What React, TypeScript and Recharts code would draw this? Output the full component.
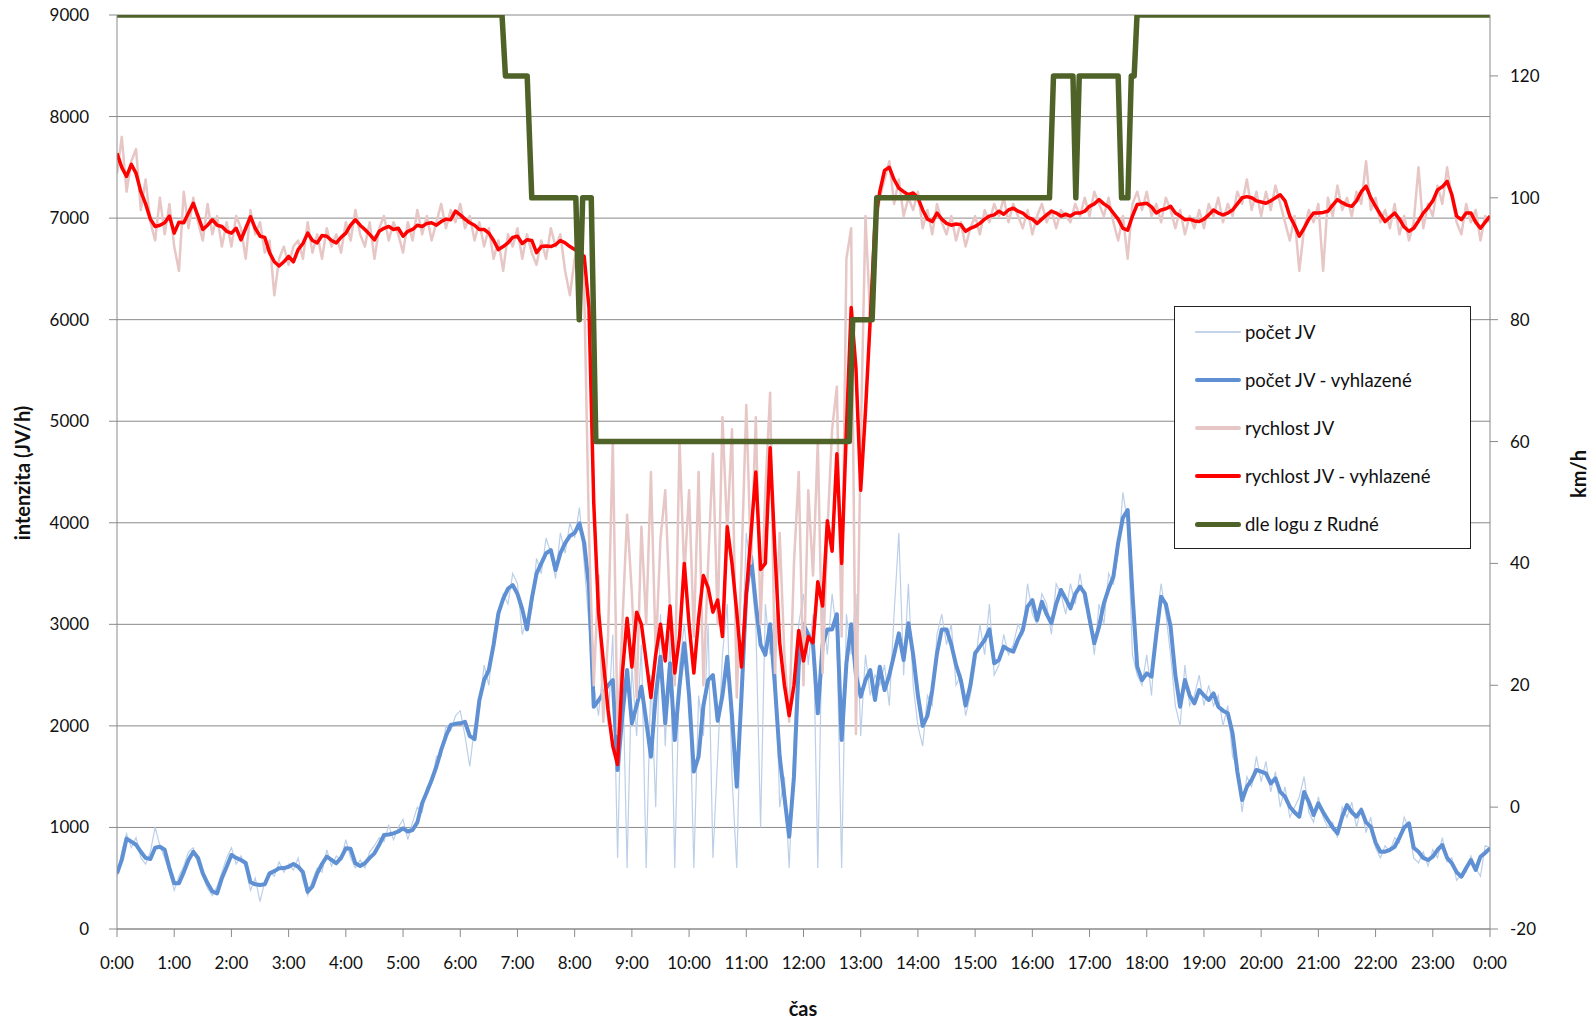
import React from "react";
import { LineChart, Line, XAxis, YAxis, CartesianGrid } from "recharts";

// 5-minute samples, 00:00 .. 24:00 (289 values per series)
const STEP_MIN = 5;

// počet JV (JV/h) - raw
const countRaw = [
  520, 760, 940, 800, 900, 700, 640, 760, 1000, 820, 700, 560,
  380, 520, 620, 760, 800, 640, 520, 400, 330, 420, 560, 700,
  800, 640, 720, 600, 380, 500, 270, 470, 560, 520, 660, 560,
  640, 580, 700, 480, 330, 480, 600, 560, 780, 620, 720, 680,
  880, 700, 600, 680, 600, 760, 820, 900, 860, 1020, 880, 1000,
  1080, 880, 1050, 1200, 1150, 1400, 1430, 1700, 1700, 2000, 1950, 2100,
  2150, 1900, 1600, 2000, 2150, 2600, 2400, 2900, 3050, 3300, 3200, 3500,
  3400, 2900, 3050, 3150, 3650, 3500, 3850, 3700, 3450, 3900, 3700, 4000,
  3850, 4150, 3600, 3000, 2400, 2100, 2600, 2000, 2900, 700, 2700, 600,
  2600, 1900, 2800, 600, 2500, 1200, 3100, 1800, 2900, 600, 2600, 3000,
  2500, 600, 2300, 1900, 3000, 700, 1700, 2700, 3200, 1500, 600, 2500,
  3900, 3500, 3000, 1000, 3200, 2700, 2900, 1200, 1500, 600, 1800, 3000,
  3300, 2600, 3100, 600, 3200, 2700, 3300, 2900, 600, 3100, 2700, 3300,
  1900, 2700, 2300, 2500, 2400, 2600, 2200, 3100, 3900, 2500, 3400, 2400,
  2000, 1800, 2300, 2200, 2900, 3100, 2800, 3000, 2400, 2500, 2100, 2300,
  2600, 3000, 2700, 3200, 2500, 2600, 2900, 2700, 2800, 3000, 2900, 3400,
  3100, 3000, 3300, 3200, 2900, 3400, 3300, 3100, 3400, 3200, 3500, 3200,
  3100, 2700, 3200, 3000, 3500, 3400, 3700, 4300, 4000, 2700, 2500, 2400,
  2700, 2300, 3000, 3400, 3100, 2700, 2200, 2000, 2600, 2200, 2300, 2500,
  2200, 2400, 2200, 2300, 2000, 2200, 1700, 1600, 1150, 1500, 1400, 1700,
  1450, 1650, 1350, 1550, 1200, 1400, 1100, 1200, 1300, 1500, 1150, 1050,
  1300, 1100, 1000, 1050, 900, 1200, 1100, 1250, 1000, 1200, 950, 1100,
  800, 700, 820, 760, 900, 850, 1100, 980, 700, 650, 760, 620,
  780, 700, 900, 660, 700, 480, 540, 560, 720, 600, 520, 820,
  800,
];

// počet JV - vyhlazené (JV/h)
const countSmooth = [
  548, 680, 890, 860, 830, 760, 700, 690, 800, 810, 780, 600,
  450, 450, 560, 680, 760, 700, 548, 450, 370, 351, 500, 613,
  729, 700, 679, 650, 460, 440, 433, 440, 548, 570, 598, 600,
  613, 640, 613, 560, 367, 420, 548, 640, 712, 680, 647, 700,
  795, 790, 647, 620, 647, 700, 745, 830, 925, 930, 942, 960,
  991, 960, 975, 1050, 1238, 1350, 1467, 1600, 1763, 1900, 2009, 2020,
  2025, 2040, 1900, 1870, 2250, 2450, 2550, 2800, 3108, 3250, 3350, 3387,
  3300, 3150, 2950, 3250, 3500, 3600, 3700, 3730, 3535, 3700, 3800, 3870,
  3900, 3995, 3800, 3371, 2189, 2250, 2321, 2400, 2451, 1566, 2100, 2550,
  2025, 2200, 2386, 2050, 1697, 2300, 2681, 2025, 2616, 1861, 2400, 2813,
  2300, 1550, 1700, 2200, 2450, 2500, 2050, 2300, 2681, 2100, 1401, 2300,
  3300, 3666, 3200, 2800, 2700, 3000, 2400, 1700, 1300, 909, 1500, 2600,
  3000, 2900, 2800, 2124, 2800, 2950, 2950, 3100, 1861, 2616, 3000, 2500,
  2288, 2450, 2550, 2255, 2583, 2353, 2500, 2700, 2911, 2649, 3010, 2700,
  2300, 2000, 2100, 2350, 2715, 2950, 2950, 2800, 2600, 2452, 2200, 2400,
  2715, 2780, 2846, 2950, 2616, 2650, 2780, 2750, 2731, 2850, 2944, 3174,
  3239, 3043, 3223, 3100, 3010, 3200, 3338, 3250, 3157, 3300, 3371, 3305,
  3050, 2813, 2977, 3207, 3350, 3469, 3800, 4050, 4126, 3300, 2583, 2450,
  2518, 2485, 2900, 3272, 3200, 2977, 2500, 2189, 2452, 2300, 2222, 2353,
  2300, 2255, 2321, 2189, 2150, 2124, 1927, 1550, 1270, 1400, 1467, 1566,
  1550, 1532, 1434, 1483, 1350, 1303, 1204, 1150, 1106, 1350, 1250, 1122,
  1237, 1150, 1073, 1000, 942, 1106, 1220, 1150, 1106, 1172, 1050, 1007,
  850, 761, 761, 780, 810, 900, 1000, 1040, 800, 760, 700, 679,
  712, 780, 827, 700, 647, 560, 515, 600, 679, 581, 712, 750,
  794,
];

// rychlost JV (km/h) - raw
const speedRaw = [
  104, 110, 101, 106, 108, 98, 103, 96, 93, 100, 94, 99,
  92, 88, 101, 95, 100, 96, 93, 99, 94, 97, 92, 96,
  92, 97, 95, 90, 98, 94, 96, 91, 93, 84, 90, 92,
  89, 92, 93, 90, 96, 91, 94, 90, 95, 92, 94, 91,
  96, 93, 98, 94, 92, 96, 90, 95, 97, 93, 96, 94,
  91, 96, 93, 98, 94, 97, 93, 96, 99, 95, 98, 96,
  99, 95, 97, 93, 96, 92, 95, 90, 93, 88, 94, 92,
  95, 90, 94, 91, 89, 93, 90, 95, 92, 94, 88, 84,
  90, 93, 85, 45, 20, 38, 14, 28, 60, 12, 30, 48,
  35, 18, 46, 30, 55, 25, 44, 52, 32, 20, 60, 38,
  52, 28, 55, 20, 40, 58, 30, 64, 45, 62, 18, 40,
  66, 40, 64, 30, 52, 68, 22, 45, 25, 14, 40, 55,
  20, 52, 38, 60, 22, 45, 62, 69, 28, 90, 95, 12,
  60, 97, 80, 94, 100, 103, 106, 99, 103, 97, 100, 98,
  101, 95, 98, 94, 99, 96, 94, 97, 93, 96, 92, 95,
  97, 94, 98, 96, 99, 97, 100, 96, 99, 97, 95, 98,
  94, 97, 99, 96, 98, 95, 98, 97, 96, 99, 97, 100,
  97, 101, 99, 97, 100, 96, 93, 97, 90, 99, 101, 98,
  101, 97, 99, 96, 100, 98, 95, 98, 94, 97, 95, 98,
  95, 99, 97, 100, 96, 99, 97, 101, 99, 103, 98, 101,
  97, 101, 98, 102, 99, 96, 93, 97, 88, 95, 98, 96,
  99, 88, 100, 97, 102, 98, 100, 97, 101, 99, 106, 98,
  100, 96, 98, 95, 99, 94, 97, 93, 96, 105, 95, 99,
  97, 102, 99, 105, 100, 96, 94, 99, 96, 98, 93, 97,
  96,
];

// rychlost JV - vyhlazené (km/h)
const speedSmooth = [
  107.3, 105, 103.5, 105.5, 104, 101, 99, 96.5, 95.3, 95.5, 95.9, 97,
  94.2, 96, 95.9, 97.5, 99.1, 97, 94.8, 95.5, 96.4, 95.5, 95.3, 94.5,
  94.2, 95, 93.1, 95, 96.9, 95, 93.7, 93.5, 91, 89.5, 88.8, 89.5,
  90.4, 89.5, 91.5, 92.5, 94.2, 93, 92.6, 93.8, 93.7, 93, 92.6, 93.5,
  94.2, 95.5, 96.4, 95.5, 94.8, 94, 93.1, 94.5, 95, 95.3, 94.8, 95,
  93.7, 94.5, 94.8, 95.5, 95.3, 95.8, 95.9, 95.5, 96.1, 96.5, 96.4, 97.8,
  97.2, 96.5, 95.9, 95.5, 94.8, 94.8, 94.2, 93, 91.5, 92, 92.6, 93.5,
  93.7, 92.5, 93.1, 93, 91, 92, 92.1, 92, 92.3, 93, 92.6, 92,
  91.5, 91, 90.4, 82, 50, 32, 24, 16, 10, 7, 22, 31,
  23, 32, 30, 24, 18, 25, 30, 24, 33, 22, 28, 40,
  30, 22, 31, 38, 36, 32, 34, 28, 46, 40, 32, 23,
  35, 45, 55, 39, 40, 59, 42, 27, 20, 15, 20, 29,
  24, 28, 27, 37, 33, 47, 42, 58, 40, 62, 82, 72,
  52, 65, 80, 96, 101, 104.5, 105, 103, 101.6, 101, 100.5, 100.8,
  100, 98, 96.5, 96.1, 97.5, 96.5, 95.8, 95.5, 95.7, 95.6, 94.5, 95,
  95.3, 95.8, 96.5, 97, 97.2, 97.8, 97.3, 98, 98.3, 97.8, 97.5, 96.8,
  96.5, 95.8, 96.5, 97.2, 97.8, 97.5, 97, 97.3, 97, 97.5, 97.5, 97.8,
  98.6, 99, 99.7, 99, 98.5, 97.5, 96.5, 95, 94.7, 97, 98.9, 99,
  99.1, 98.5, 97.5, 98, 98.2, 98.6, 97.5, 97, 96.4, 96.5, 96.2, 96.1,
  96.5, 97.2, 98, 97.5, 97.2, 97.5, 98, 99, 100, 100.2, 100, 99.5,
  99.3, 99.1, 99.5, 100, 100.5, 99.5, 97, 95.5, 93.7, 95, 96.5, 97.5,
  97.5, 97.6, 97.8, 98.8, 99.7, 99.2, 98.8, 98.6, 99.5, 101, 101.9, 100,
  98.6, 97.3, 96.1, 96.8, 97.5, 96.5, 95.2, 94.5, 95, 96.2, 97.5, 98.4,
  99.5, 101.3, 101.8, 102.7, 100.5, 97, 96.4, 97.5, 97.5, 96, 95, 96,
  97,
];

// dle logu z Rudné: speed limit changes (hour of day, km/h)
const logHours = [
  0, 6.73, 6.79, 7.17, 7.25, 8.02, 8.08, 8.14, 8.29, 8.37, 12.8, 12.86, 13.2,
  13.28, 16.3, 16.37, 16.71, 16.76, 16.82, 17.5, 17.56, 17.67, 17.73, 17.78, 17.83, 24,
];
const logSpeed = [
  130, 130, 120, 120, 100, 100, 80, 100, 100, 60, 60, 80, 80,
  100, 100, 120, 120, 100, 120, 120, 100, 100, 120, 120, 130, 130,
];

const hourTicks = [0, 1, 2, 3, 4, 5, 6, 7, 8, 9, 10, 11, 12, 13, 14, 15, 16, 17, 18, 19, 20, 21, 22, 23, 24];
const countTicks = [0, 1000, 2000, 3000, 4000, 5000, 6000, 7000, 8000, 9000];
const speedTicks = [-20, 0, 20, 40, 60, 80, 100, 120];

const toPoints = (vals: number[]) => vals.map((v, i) => ({ t: (i * STEP_MIN) / 60, v }));

const countRawData = toPoints(countRaw);
const countSmoothData = toPoints(countSmooth);
const speedRawData = toPoints(speedRaw);
const speedSmoothData = toPoints(speedSmooth);
const logData = logHours.map((t, i) => ({ t, v: logSpeed[i] }));

const FONT = "Lato, 'Open Sans', sans-serif";
const GRID = "#8a8a8a";

const legendItems = [
  { name: "počet JV", color: "#c3d3ea", width: 1.5 },
  { name: "počet JV - vyhlazené", color: "#5e90d3", width: 4 },
  { name: "rychlost JV", color: "#e7c6c6", width: 4 },
  { name: "rychlost JV - vyhlazené", color: "#ff0000", width: 4 },
  { name: "dle logu z Rudné", color: "#4f6228", width: 5 },
];

const tickStyle = { fill: "#111", fontSize: 17, fontFamily: FONT };
const titleStyle = { fontWeight: 700, fontSize: 20, whiteSpace: "nowrap" as const, color: "#111" };

export default function App() {
  return (
    <div style={{ position: "absolute", left: 0, top: 0, width: 1590, height: 1020, background: "#fff", fontFamily: FONT }}>
      <LineChart width={1590} height={1020} margin={{ top: 15, right: 0, bottom: 0, left: 0 }}>
        <CartesianGrid yAxisId="left" vertical={false} stroke={GRID} strokeWidth={1} />
        <XAxis
          dataKey="t"
          type="number"
          domain={[0, 24]}
          ticks={hourTicks}
          interval={0}
          tickFormatter={(h: number) => `${h % 24}:00`}
          height={91}
          stroke={GRID}
          tickSize={8}
          tickMargin={20}
          tick={tickStyle}
          allowDataOverflow
        />
        <YAxis
          yAxisId="left"
          domain={[0, 9000]}
          ticks={countTicks}
          interval={0}
          width={117}
          stroke={GRID}
          tickSize={8}
          tickMargin={20}
          tick={tickStyle}
        />
        <YAxis
          yAxisId="right"
          orientation="right"
          domain={[-20, 130]}
          ticks={speedTicks}
          interval={0}
          width={100}
          stroke={GRID}
          tickSize={8}
          tickMargin={12}
          tick={tickStyle}
          allowDataOverflow
        />
        <Line yAxisId="left" data={countRawData} dataKey="v" type="linear" stroke="#bccfe9" strokeWidth={1.2} dot={false} activeDot={false} isAnimationActive={false} />
        <Line yAxisId="left" data={countSmoothData} dataKey="v" type="linear" stroke="#5e90d3" strokeWidth={4} strokeLinejoin="round" dot={false} activeDot={false} isAnimationActive={false} />
        <Line yAxisId="right" data={speedRawData} dataKey="v" type="linear" stroke="#e7c6c6" strokeWidth={2.5} strokeLinejoin="round" dot={false} activeDot={false} isAnimationActive={false} />
        <Line yAxisId="right" data={speedSmoothData} dataKey="v" type="linear" stroke="#ff0000" strokeWidth={3.5} strokeLinejoin="round" dot={false} activeDot={false} isAnimationActive={false} />
        <Line yAxisId="right" data={logData} dataKey="v" type="linear" stroke="#4f6228" strokeWidth={5.5} strokeLinejoin="round" dot={false} activeDot={false} isAnimationActive={false} />
      </LineChart>

      {/* axis titles */}
      <div style={{ ...titleStyle, position: "absolute", left: 22, top: 473, transform: "translate(-50%, -50%) rotate(-90deg)" }}>
        intenzita (JV/h)
      </div>
      <div style={{ ...titleStyle, position: "absolute", left: 1578, top: 474, transform: "translate(-50%, -50%) rotate(-90deg)" }}>
        km/h
      </div>
      <div style={{ ...titleStyle, position: "absolute", left: 803, top: 1008, transform: "translate(-50%, -50%)" }}>
        čas
      </div>

      {/* legend */}
      <div style={{ position: "absolute", left: 1174, top: 306, width: 297, height: 243, border: "1.5px solid #222", background: "#fff", boxSizing: "border-box" }}>
        {legendItems.map((item, i) => (
          <div key={item.name} style={{ position: "absolute", left: 20, top: 25 + i * 48, display: "flex", alignItems: "center", transform: "translateY(-50%)" }}>
            <div style={{ width: 46, height: item.width, background: item.color, borderRadius: item.width / 2 }} />
            <span style={{ marginLeft: 4, fontSize: 18.5, color: "#111", whiteSpace: "nowrap" }}>{item.name}</span>
          </div>
        ))}
      </div>
    </div>
  );
}
